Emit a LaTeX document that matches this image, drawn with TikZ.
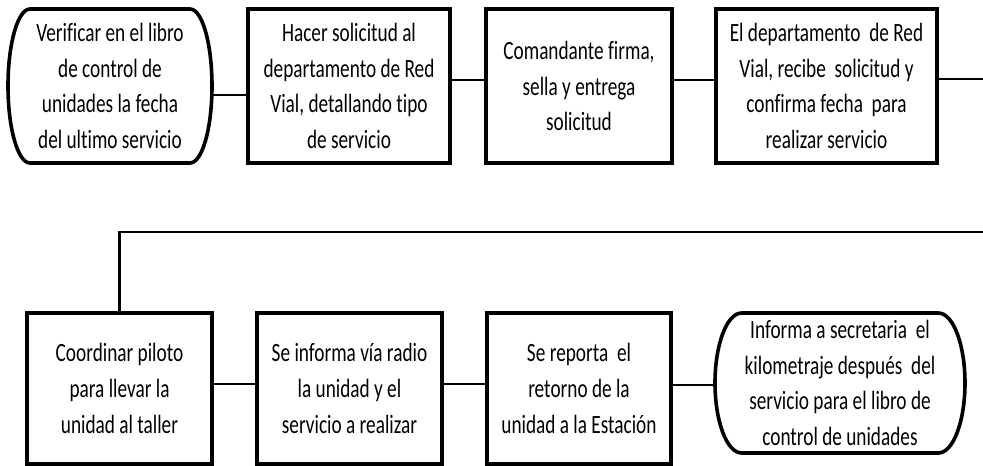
\documentclass[tikz,border=0pt]{standalone}
\usepackage{fontspec}
\setmainfont{Carlito}[FakeStretch=0.73,Ligatures={NoCommon,NoRare}]
\newcommand\termoutline[3]{%
  \draw[line width=2.7pt,line join=round]
    ([xshift=#2]#1.north west) -- ([xshift=-#2]#1.north east)
    arc[start angle=90,end angle=-90,x radius=#2,y radius=#3]
    -- ([xshift=#2]#1.south west)
    arc[start angle=270,end angle=90,x radius=#2,y radius=#3] -- cycle;}
\begin{document}
\begin{tikzpicture}[x=0.75pt,y=-0.75pt,
  base/.style={inner sep=0pt,outer sep=0pt,align=center,rectangle,
    font=\fontsize{19.8pt}{26.7pt}\selectfont},
  proc/.style={base,draw,line width=2.7pt},
  term/.style={base},
  link/.style={line width=2.2pt}]
\useasboundingbox (0,0) rectangle (983,466);
\fill[white] (0,0) rectangle (983,466);
% top row
\node[term,minimum width=153pt,minimum height=115.5pt] (n1) at (110,86)
  {Verificar en el libro\\de control de\\unidades la fecha\\del ultimo servicio};
\termoutline{n1}{16.5pt}{57.75pt}
\node[proc,minimum width=151.5pt,minimum height=115.5pt] (n2) at (349,86)
  {Hacer solicitud al\\departamento de Red\\Vial, detallando tipo\\de servicio};
\node[proc,minimum width=139.5pt,minimum height=115.5pt] (n3) at (579,86)
  {Comandante firma,\\sella y entrega\\solicitud};
\node[proc,minimum width=165.75pt,minimum height=115.5pt] (n4) at (826.5,86)
  {El departamento\ \ de Red\\Vial, recibe\ \ solicitud y\\confirma fecha\ \ para\\realizar servicio};
% bottom row
\node[proc,minimum width=138.75pt,minimum height=113.25pt] (n5) at (119.5,388.5)
  {Coordinar piloto\\para llevar la\\unidad al taller};
\node[proc,minimum width=138.75pt,minimum height=113.25pt] (n6) at (349.5,388.5)
  {Se informa vía radio\\la unidad y el\\servicio a realizar};
\node[proc,minimum width=138pt,minimum height=113.25pt] (n7) at (579,388.5)
  {Se reporta\ \ el\\retorno de la\\unidad a la Estación};
\node[term,minimum width=187.5pt,minimum height=105pt] (n8) at (840,383)
  {Informa a secretaria\ \ el\\kilometraje después\ \ del\\servicio para el libro de\\control de unidades};
\termoutline{n8}{20pt}{52.5pt}
% connectors
\coordinate (y95) at (0,95);
\coordinate (y80) at (0,80);
\coordinate (r1) at (983,79);
\coordinate (r2) at (983,232);
\coordinate (y384) at (0,384);
\coordinate (y385) at (0,385);
\draw[link] (n1.east |- y95) -- (n2.west |- y95);
\draw[link] (n2.east |- y80) -- (n3.west |- y80);
\draw[link] (n3.east |- y80) -- (n4.west |- y80);
\draw[link] (n4.east |- r1) -- (r1);
\draw[link] (r2) -- (n5.north |- r2) -- (n5.north);
\draw[link] (n5.east |- y384) -- (n6.west |- y384);
\draw[link] (n6.east |- y384) -- (n7.west |- y384);
\draw[link] (n7.east |- y385) -- (n8.west |- y385);
\end{tikzpicture}
\end{document}
